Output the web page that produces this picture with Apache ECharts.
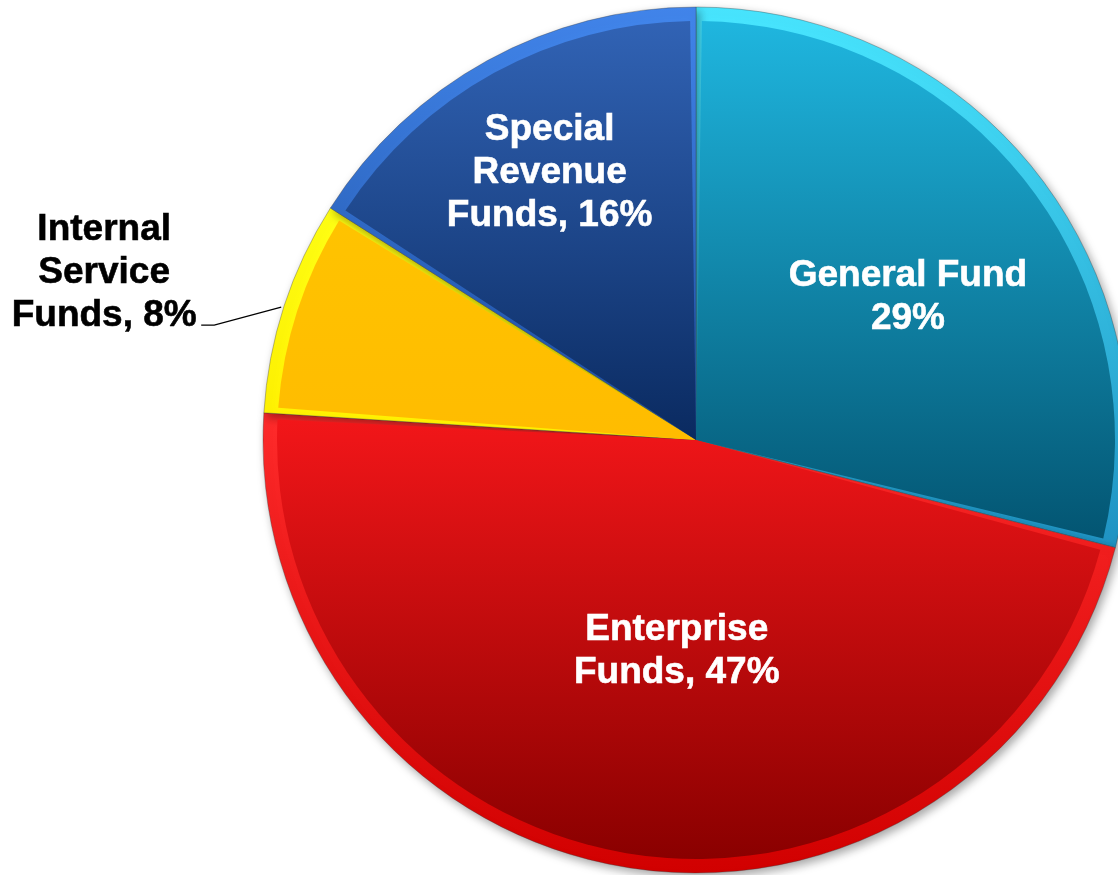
<!DOCTYPE html>
<html>
<head>
<meta charset="utf-8">
<title>Funds share</title>
<script src="https://cdn.jsdelivr.net/npm/echarts@6/dist/echarts.min.js"></script>
<style>
  html, body { margin: 0; padding: 0; background: #ffffff; }
  #chart { width: 1118px; height: 875px; }
</style>
</head>
<body>
<div id="chart"></div>
<script>
// Fund categories, clockwise from 12 o'clock
var categories = ['General Fund', 'Enterprise Funds', 'Internal Service Funds', 'Special Revenue Funds'];
// Share of total, percent
var shares = [29, 47, 8, 16];
// Label text preceding the percentage
var labelPrefix = ['General Fund\n', 'Enterprise\nFunds, ', 'Internal\nService\nFunds, ', 'Special\nRevenue\nFunds, '];

// Face colours (top -> bottom) and rim colours (top -> bottom)
var faceColors = [
  ['#1fb6df', '#035572'],
  ['#f21619', '#8a0000'],
  ['#ffc300', '#ffbc00'],
  ['#3163b5', '#0a2a60']
];
var rimColors = [
  ['#48e6ff', '#1f92c2'],
  ['#ff2b2b', '#d10000'],
  ['#ffff14', '#fff000'],
  ['#4286ec', '#1d4d9e']
];
var labelColors = ['#ffffff', '#ffffff', '#000000', '#ffffff'];
var labelOffsets = [[44, -12], [14, 1], [0, 0], [-44, -81]];

function vgrad(c) {
  return new echarts.graphic.LinearGradient(0, 0, 0, 1, [
    { offset: 0, color: c[0] },
    { offset: 1, color: c[1] }
  ]);
}

var center = [696, 440];
var outerR = 433;
var faceR = 419;

var rimData = categories.map(function (name, i) {
  return { name: name, value: shares[i], itemStyle: { color: vgrad(rimColors[i]) } };
});

var faceData = categories.map(function (name, i) {
  var outside = i === 2;
  return {
    name: name,
    value: shares[i],
    itemStyle: { color: vgrad(faceColors[i]) },
    label: {
      show: true,
      position: outside ? 'outside' : 'inside',
      color: labelColors[i],
      textBorderColor: labelColors[i],
      textBorderWidth: 0.6,
      offset: outside ? [0, 0] : labelOffsets[i]
    },
    labelLine: { show: outside }
  };
});

var chart = echarts.init(document.getElementById('chart'), null, { renderer: 'canvas' });

chart.setOption({
  animation: false,
  backgroundColor: '#ffffff',
  series: [
    {
      type: 'pie',
      silent: true,
      center: center,
      radius: outerR,
      startAngle: 90,
      clockwise: true,
      label: { show: false },
      labelLine: { show: false },
      itemStyle: {
        borderWidth: 1,
        borderColor: 'rgba(60,60,60,0.35)',
        shadowBlur: 10,
        shadowColor: 'rgba(0,0,0,0.35)',
        shadowOffsetX: 3,
        shadowOffsetY: 4
      },
      data: rimData,
      z: 1
    },
    {
      type: 'pie',
      silent: true,
      center: center,
      radius: faceR,
      startAngle: 90,
      clockwise: true,
      padAngle: 1.6,
      itemStyle: { borderWidth: 0 },
      label: {
        fontFamily: '"Liberation Sans", Arial, sans-serif',
        fontWeight: 'bold',
        fontSize: 37,
        lineHeight: 43,
        align: 'center',
        verticalAlign: 'middle',
        formatter: function (p) {
          return labelPrefix[p.dataIndex] + p.value + '%';
        }
      },
      labelLine: {
        lineStyle: { color: '#000000', width: 1.2 }
      },
      labelLayout: function (params) {
        if (params.dataIndex !== 2) { return {}; }
        // anchor on the slice's outer edge at its mid angle (clockwise from 12 o'clock)
        var midDeg = (shares[0] + shares[1] + shares[2] / 2) / 100 * 360;
        var a = midDeg * Math.PI / 180;
        var sx = center[0] + outerR * Math.sin(a) - 3;
        var sy = center[1] - outerR * Math.cos(a) + 1;
        return {
          x: sx - 177,
          y: sy - 34,
          align: 'center',
          verticalAlign: 'middle',
          labelLinePoints: [[sx, sy], [sx - 67, sy + 18], [sx - 80, sy + 18]]
        };
      },
      data: faceData,
      z: 2
    }
  ]
});
</script>
</body>
</html>
